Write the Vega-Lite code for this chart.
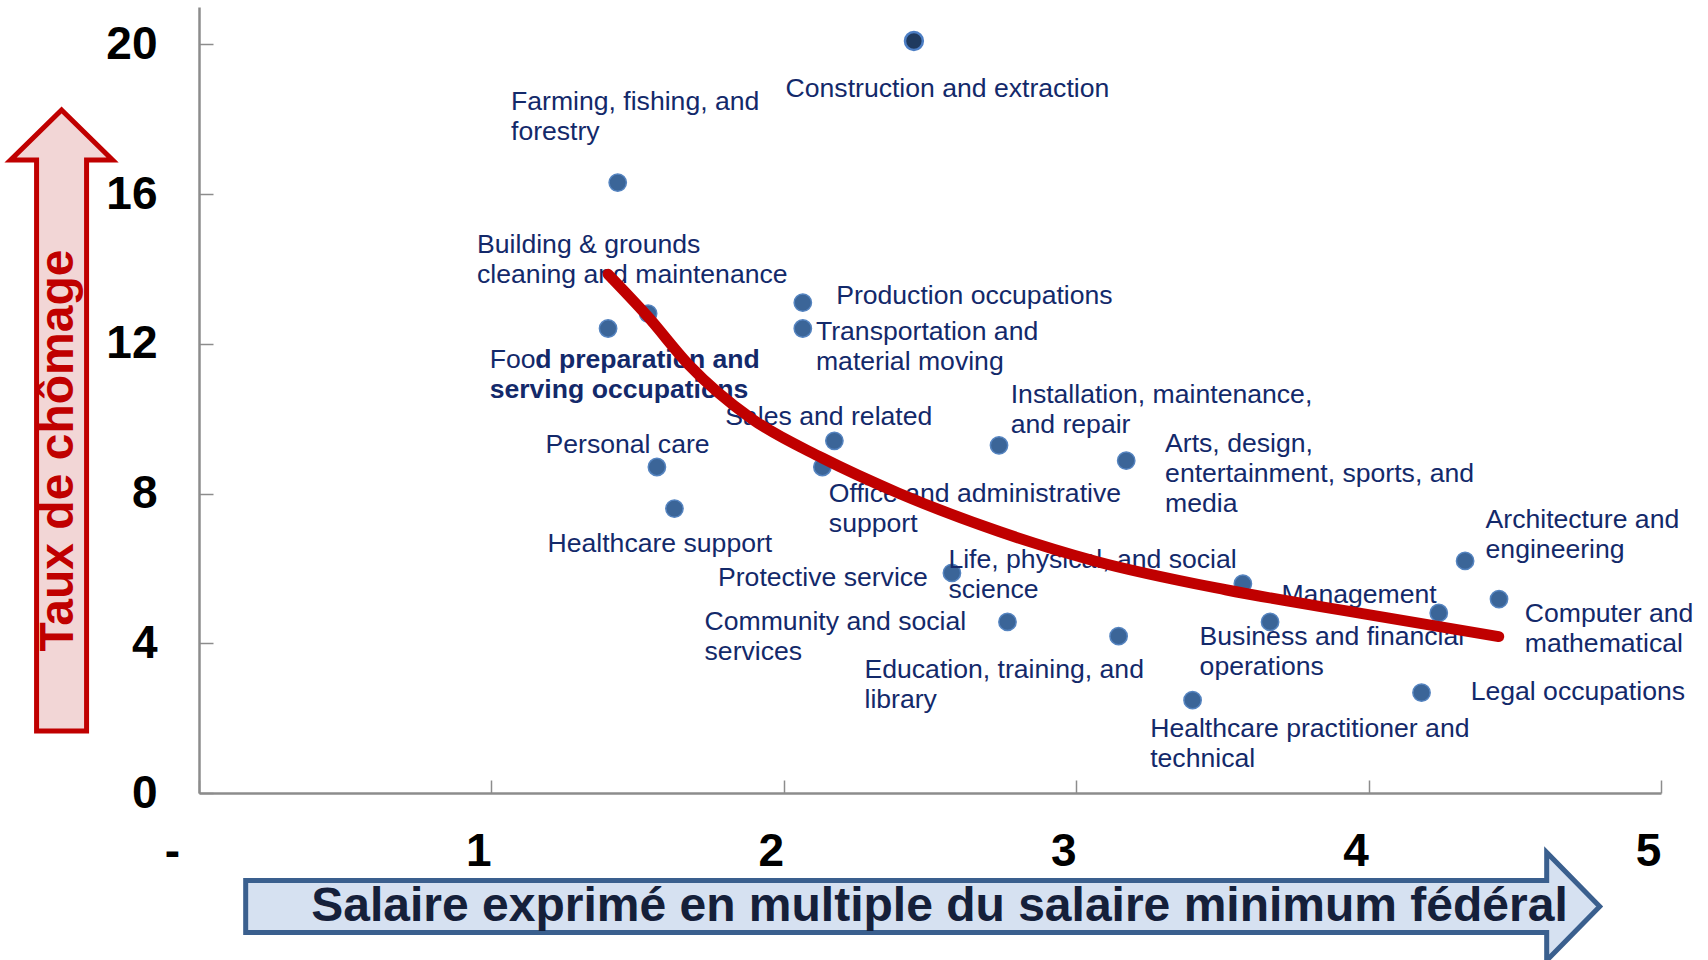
{
  "$schema": "https://vega.github.io/schema/vega-lite/v6.json",
  "width": 1462,
  "height": 786,
  "autosize": {"type": "none"},
  "padding": {"left": 199, "top": 7, "right": 47, "bottom": 167},
  "background": "white",
  "config": {"view": {"stroke": null}, "font": "Liberation Sans"},
  "datasets": {
    "occupations": [
      {"occupation": "Construction and extraction", "wage": 2.445, "unemployment": 20.09},
      {"occupation": "Farming, fishing, and forestry", "wage": 1.432, "unemployment": 16.31},
      {"occupation": "Building & grounds cleaning and maintenance", "wage": 1.536, "unemployment": 12.81},
      {"occupation": "Food preparation and serving occupations", "wage": 1.399, "unemployment": 12.41},
      {"occupation": "Production occupations", "wage": 2.065, "unemployment": 13.10},
      {"occupation": "Transportation and material moving", "wage": 2.065, "unemployment": 12.41},
      {"occupation": "Sales and related", "wage": 2.173, "unemployment": 9.41},
      {"occupation": "Office and administrative support", "wage": 2.132, "unemployment": 8.71},
      {"occupation": "Personal care", "wage": 1.566, "unemployment": 8.71},
      {"occupation": "Healthcare support", "wage": 1.626, "unemployment": 7.60},
      {"occupation": "Installation, maintenance, and repair", "wage": 2.736, "unemployment": 9.29},
      {"occupation": "Arts, design, entertainment, sports, and media", "wage": 3.171, "unemployment": 8.88},
      {"occupation": "Protective service", "wage": 2.575, "unemployment": 5.88},
      {"occupation": "Life, physical, and social science", "wage": 3.570, "unemployment": 5.59},
      {"occupation": "Community and social services", "wage": 2.765, "unemployment": 4.57},
      {"occupation": "Education, training, and library", "wage": 3.145, "unemployment": 4.19},
      {"occupation": "Business and financial operations", "wage": 3.663, "unemployment": 4.57},
      {"occupation": "Healthcare practitioner and technical", "wage": 3.398, "unemployment": 2.48},
      {"occupation": "Management", "wage": 4.240, "unemployment": 4.81},
      {"occupation": "Architecture and engineering", "wage": 4.330, "unemployment": 6.20},
      {"occupation": "Computer and mathematical", "wage": 4.446, "unemployment": 5.18},
      {"occupation": "Legal occupations", "wage": 4.181, "unemployment": 2.68}
    ],
    "labels": [
      {"text": "Construction and extraction", "lx": 2.006, "ly": 18.60, "emphasis": false},
      {"text": "Farming, fishing, and\nforestry", "lx": 1.067, "ly": 18.25, "emphasis": false},
      {"text": "Building & grounds\ncleaning and maintenance", "lx": 0.951, "ly": 14.42, "emphasis": false},
      {"text": "Production occupations", "lx": 2.179, "ly": 13.06, "emphasis": false},
      {"text": "Transportation and\nmaterial moving", "lx": 2.110, "ly": 12.10, "emphasis": false},
      {"text": "Foo", "lx": 0.994, "ly": 11.35, "emphasis": false},
      {"text": "d preparation and", "lx": 1.150, "ly": 11.35, "emphasis": true},
      {"text": "serving occupations", "lx": 0.994, "ly": 10.55, "emphasis": true},
      {"text": "Installation, maintenance,\nand repair", "lx": 2.776, "ly": 10.41, "emphasis": false},
      {"text": "Sales and related", "lx": 1.800, "ly": 9.83, "emphasis": false},
      {"text": "Personal care", "lx": 1.185, "ly": 9.08, "emphasis": false},
      {"text": "Arts, design,\nentertainment, sports, and\nmedia", "lx": 3.304, "ly": 9.12, "emphasis": false},
      {"text": "Office and administrative\nsupport", "lx": 2.154, "ly": 7.78, "emphasis": false},
      {"text": "Healthcare support", "lx": 1.192, "ly": 6.45, "emphasis": false},
      {"text": "Architecture and\nengineering", "lx": 4.400, "ly": 7.07, "emphasis": false},
      {"text": "Life, physical, and social\nscience", "lx": 2.563, "ly": 6.00, "emphasis": false},
      {"text": "Protective service", "lx": 1.775, "ly": 5.53, "emphasis": false},
      {"text": "Management", "lx": 3.702, "ly": 5.07, "emphasis": false},
      {"text": "Computer and\nmathematical", "lx": 4.534, "ly": 4.58, "emphasis": false},
      {"text": "Community and social\nservices", "lx": 1.729, "ly": 4.35, "emphasis": false},
      {"text": "Business and financial\noperations", "lx": 3.422, "ly": 3.95, "emphasis": false},
      {"text": "Education, training, and\nlibrary", "lx": 2.276, "ly": 3.06, "emphasis": false},
      {"text": "Legal occupations", "lx": 4.349, "ly": 2.48, "emphasis": false},
      {"text": "Healthcare practitioner and\ntechnical", "lx": 3.253, "ly": 1.50, "emphasis": false}
    ],
    "trend": [
      {"wage": 1.399, "unemployment": 13.86},
      {"wage": 1.536, "unemployment": 12.72},
      {"wage": 1.674, "unemployment": 11.45},
      {"wage": 1.890, "unemployment": 10.0},
      {"wage": 2.132, "unemployment": 8.95},
      {"wage": 2.393, "unemployment": 8.01},
      {"wage": 2.739, "unemployment": 6.98},
      {"wage": 3.063, "unemployment": 6.20},
      {"wage": 3.511, "unemployment": 5.43},
      {"wage": 3.974, "unemployment": 4.80},
      {"wage": 4.445, "unemployment": 4.18}
    ]
  },
  "layer": [
    {
      "data": {"values": [{}]},
      "mark": {"type": "point", "shape": "M0,-317L51,-267L25,-267L25,304L-25,304L-25,-267L-51,-267Z", "size": 4, "filled": true, "fill": "#F2D6D6", "stroke": "#C00000", "strokeWidth": 5, "opacity": 1, "strokeOpacity": 1, "fillOpacity": 1, "strokeJoin": "miter"},
      "encoding": {
        "x": {"datum": -0.47, "type": "quantitative", "scale": {"domain": [0, 5], "nice": false, "zero": false}},
        "y": {"datum": 9.78, "type": "quantitative", "scale": {"domain": [0, 21], "nice": false, "zero": false}}
      }
    },
    {
      "data": {"values": [{}]},
      "mark": {"type": "point", "shape": "M-677,-26L624,-26L624,-54L677,0L624,54L624,26L-677,26Z", "size": 4, "filled": true, "fill": "#D6E1F1", "stroke": "#3A5F8E", "strokeWidth": 5, "opacity": 1, "strokeOpacity": 1, "fillOpacity": 1, "strokeJoin": "miter"},
      "encoding": {
        "x": {"datum": 2.475, "type": "quantitative", "scale": {"domain": [0, 5], "nice": false, "zero": false}},
        "y": {"datum": -3.032, "type": "quantitative", "scale": {"domain": [0, 21], "nice": false, "zero": false}}
      }
    },
    {
      "data": {"name": "occupations"},
      "transform": [{"filter": "datum.occupation !== 'Construction and extraction'"}],
      "mark": {"type": "circle", "size": 300, "color": "#3B6598", "stroke": "#5584C0", "strokeWidth": 1.5, "opacity": 1},
      "encoding": {
        "x": {
          "field": "wage", "type": "quantitative",
          "scale": {"domain": [0, 5], "nice": false, "zero": false},
          "axis": {
            "title": "Salaire exprimé en multiple du salaire minimum fédéral",
            "values": [0, 1, 2, 3, 4, 5],
            "labelExpr": "datum.value === 0 ? '-' : format(datum.value, 'd')",
            "grid": false,
            "domainColor": "#8C8C8C", "domainWidth": 2.5,
            "tickColor": "#8C8C8C", "tickWidth": 1.5, "tickSize": -13,
            "labelFont": "Liberation Sans", "labelFontSize": 46, "labelFontWeight": "bold", "labelColor": "#000000",
            "labelPadding": 71, "labelBaseline": "middle", "labelAlign": "center",
            "labelOffset": {"condition": {"test": "datum.value === 0", "value": -27}, "value": -13},
            "labelFlush": false, "labelOverlap": false, "labelBound": false,
            "titleFont": "Liberation Sans", "titleFontSize": 48, "titleFontWeight": "bold", "titleColor": "#15203A",
            "titleX": 740, "titleY": 127, "titleBaseline": "alphabetic", "titleAlign": "center",
            "zindex": 1
          }
        },
        "y": {
          "field": "unemployment", "type": "quantitative",
          "scale": {"domain": [0, 21], "nice": false, "zero": false},
          "axis": {
            "title": "Taux de chômage",
            "values": [0, 4, 8, 12, 16, 20],
            "grid": false,
            "domainColor": "#8C8C8C", "domainWidth": 2.5,
            "tickColor": "#8C8C8C", "tickWidth": 1.5, "tickSize": -14,
            "labelFont": "Liberation Sans", "labelFontSize": 46, "labelFontWeight": "bold", "labelColor": "#000000",
            "labelPadding": 56, "labelBaseline": "middle", "labelAlign": "right",
            "labelFlush": false, "labelOverlap": false, "labelBound": false,
            "titleFont": "Liberation Sans", "titleFontSize": 48, "titleFontWeight": "bold", "titleColor": "#C00000",
            "titleX": -127, "titleY": 443, "titleAngle": -90, "titleBaseline": "alphabetic", "titleAlign": "center",
            "zindex": 1
          }
        }
      }
    },
    {
      "data": {"name": "occupations"},
      "transform": [{"filter": "datum.occupation === 'Construction and extraction'"}],
      "mark": {"type": "circle", "size": 320, "color": "#1F3A5F", "stroke": "#4C7EC4", "strokeWidth": 2.5, "opacity": 1},
      "encoding": {
        "x": {"field": "wage", "type": "quantitative", "scale": {"domain": [0, 5], "nice": false, "zero": false}},
        "y": {"field": "unemployment", "type": "quantitative", "scale": {"domain": [0, 21], "nice": false, "zero": false}}
      }
    },
    {
      "data": {"name": "labels"},
      "transform": [{"filter": "!datum.emphasis"}],
      "mark": {"type": "text", "align": "left", "baseline": "alphabetic", "fontSize": 26.6, "lineHeight": 30, "lineBreak": "\n", "color": "#13296A", "font": "Liberation Sans"},
      "encoding": {
        "x": {"field": "lx", "type": "quantitative", "scale": {"domain": [0, 5], "nice": false, "zero": false}},
        "y": {"field": "ly", "type": "quantitative", "scale": {"domain": [0, 21], "nice": false, "zero": false}},
        "text": {"field": "text"}
      }
    },
    {
      "data": {"name": "labels"},
      "transform": [{"filter": "datum.emphasis"}],
      "mark": {"type": "text", "align": "left", "baseline": "alphabetic", "fontSize": 26.6, "fontWeight": "bold", "lineHeight": 30, "color": "#13296A", "font": "Liberation Sans"},
      "encoding": {
        "x": {"field": "lx", "type": "quantitative", "scale": {"domain": [0, 5], "nice": false, "zero": false}},
        "y": {"field": "ly", "type": "quantitative", "scale": {"domain": [0, 21], "nice": false, "zero": false}},
        "text": {"field": "text"}
      }
    },
    {
      "data": {"name": "trend"},
      "mark": {"type": "line", "color": "#C00000", "strokeWidth": 11, "strokeCap": "round", "interpolate": "monotone"},
      "encoding": {
        "x": {"field": "wage", "type": "quantitative", "scale": {"domain": [0, 5], "nice": false, "zero": false}},
        "y": {"field": "unemployment", "type": "quantitative", "scale": {"domain": [0, 21], "nice": false, "zero": false}}
      }
    }
  ]
}
